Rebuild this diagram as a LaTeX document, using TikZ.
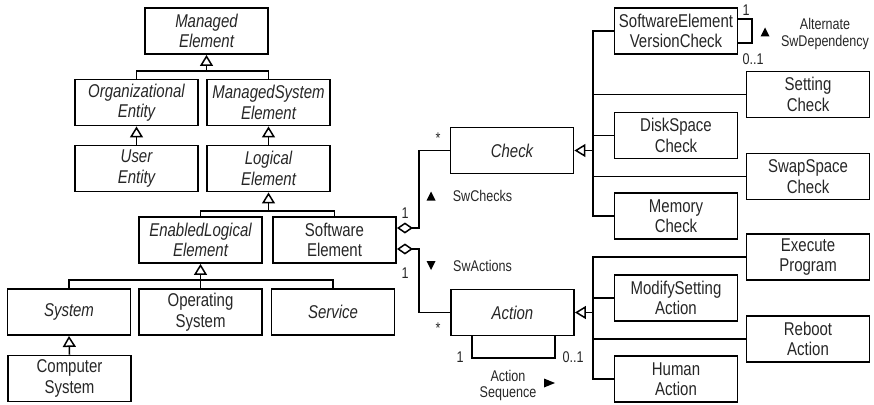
\documentclass[tikz,border=0pt]{standalone}
\usepackage{fontspec}
\setmainfont{Liberation Sans}
\newfontfamily\umlfont[FakeStretch=0.81]{Liberation Sans}
\usetikzlibrary{arrows.meta}
\begin{document}
\begin{tikzpicture}[x=1pt,y=-1pt,
  cls/.style={draw, line width=1.9pt, minimum width=123pt, minimum height=46pt, inner sep=1pt, align=center, text=black!85, font=\umlfont\fontsize{18.5}{20.5}\selectfont},
  abs/.style={cls, font=\umlfont\fontsize{18.5}{20.5}\selectfont\itshape},
  conn/.style={line width=1.5pt},
  gen/.style={conn, -{Triangle[open, length=11pt, width=13pt, line width=1.5pt]}},
  agg/.style={conn, {Diamond[open, length=16pt, width=11pt, line width=1.5pt]}-},
  lbl/.style={font=\umlfont\fontsize{15.5}{17}\selectfont, text=black!85, inner sep=0pt, align=center}]
\useasboundingbox (0,0) rectangle (874,404);
% left hierarchy
\node[abs] (me) at (206.5,31) {Managed\\Element};
\node[abs] (oe) at (136.5,102.5) {Organizational\\Entity};
\node[abs] (mse) at (268.5,102.5) {ManagedSystem\\Element};
\node[abs] (ue) at (136.5,168.5) {User\\Entity};
\node[abs] (le) at (268.5,168.5) {Logical\\Element};
\node[abs] (ele) at (200.5,240) {EnabledLogical\\Element};
\node[cls] (se) at (334.5,240) {Software\\Element};
\node[abs] (sys) at (69,312) {System};
\node[cls] (os) at (200.5,312) {Operating\\System};
\node[abs] (svc) at (333,312) {Service};
\node[cls] (cs) at (69.5,378.5) {Computer\\System};
% check / action
\node[abs] (check) at (512,150.5) {Check};
\node[abs] (action) at (512.5,312.5) {Action};
\node[cls] (sevc) at (676,31) {SoftwareElement\\VersionCheck};
\node[cls] (setc) at (808,94.5) {Setting\\Check};
\node[cls] (dsc) at (676,135.5) {DiskSpace\\Check};
\node[cls] (ssc) at (808,176.5) {SwapSpace\\Check};
\node[cls] (memc) at (676,216) {Memory\\Check};
\node[cls] (ep) at (808,257) {Execute\\Program};
\node[cls] (msa) at (676,298) {ModifySetting\\Action};
\node[cls] (ra) at (808,339) {Reboot\\Action};
\node[cls] (ha) at (676,379) {Human\\Action};
% generalizations left
\coordinate (j1) at (206.5,71);
\draw[conn] (oe.north) |- (j1) -| (mse.north);
\draw[gen] (j1) -- (me.south);
\draw[gen] (ue.north) -- (oe.south);
\draw[gen] (le.north) -- (mse.south);
\coordinate (j2) at (268.5,211);
\draw[conn] (ele.north) |- (j2) -| (se.north);
\draw[gen] (j2) -- (le.south);
\coordinate (j3) at (200.5,280);
\draw[conn] (sys.north) |- (j3) -| (svc.north);
\draw[conn] (os.north) -- (j3);
\draw[gen] (j3) -- (ele.south);
\draw[gen] (cs.north) -- (sys.south);
% check hierarchy
\coordinate (ct) at (593,150.5);
\draw[conn] (sevc.west) -| (ct) |- (memc.west);
\draw[conn] (setc.west) -| (ct);
\draw[conn] (dsc.west) -| (ct);
\draw[conn] (ssc.west) -| (ct);
\draw[gen] (ct) -- (check.east);
% action hierarchy
\coordinate (at) at (593,312.5);
\draw[conn] (ep.west) -| (at) |- (ha.west);
\draw[conn] (msa.west) -| (at);
\draw[conn] (ra.west) -| (at);
\draw[gen] (at) -- (action.east);
% aggregations
\coordinate (a1) at (419,228);
\draw[agg] (se.east |- a1) -- (a1) |- (check.west);
\coordinate (a2) at (419,249);
\draw[agg] (se.east |- a2) -- (a2) |- (action.west);
% self loops
\coordinate (l1) at (752,19);
\coordinate (l2) at (752,43);
\draw[conn] (sevc.east |- l1) -- (l1) -- (l2) -- (sevc.east |- l2);
\coordinate (l3) at (472,358);
\coordinate (l4) at (555,358);
\draw[conn] (action.south -| l3) -- (l3) -- (l4) -- (action.south -| l4);
% labels
\node[lbl] (m1) at (405,213) {1};
\node[lbl] (m2) at (438,138) {*};
\node[lbl] (m3) at (405,273) {1};
\node[lbl] (m4) at (438,328) {*};
\node[lbl] (swc) at (482.5,196) {SwChecks};
\node[lbl] (swa) at (482.5,266) {SwActions};
\node[lbl] (m5) at (746,10) {1};
\node[lbl] (m6) at (753,59) {0..1};
\node[lbl] (asd) at (825,34) {Alternate\\SwDependency};
\node[lbl] (m7) at (460,357) {1};
\node[lbl] (m8) at (573,357) {0..1};
\node[lbl, font=\umlfont\fontsize{15.5}{16}\selectfont] (aseq) at (508,385) {Action\\Sequence};
% direction markers
\fill (426.5,200.5) -- (435.5,200.5) -- (431,191.5) -- cycle;
\fill (426.5,261) -- (435.5,261) -- (431,270) -- cycle;
\fill (760.5,36.5) -- (769.5,36.5) -- (765,27.5) -- cycle;
\fill (544,378.5) -- (544,387.5) -- (555,383) -- cycle;
\end{tikzpicture}
\end{document}
